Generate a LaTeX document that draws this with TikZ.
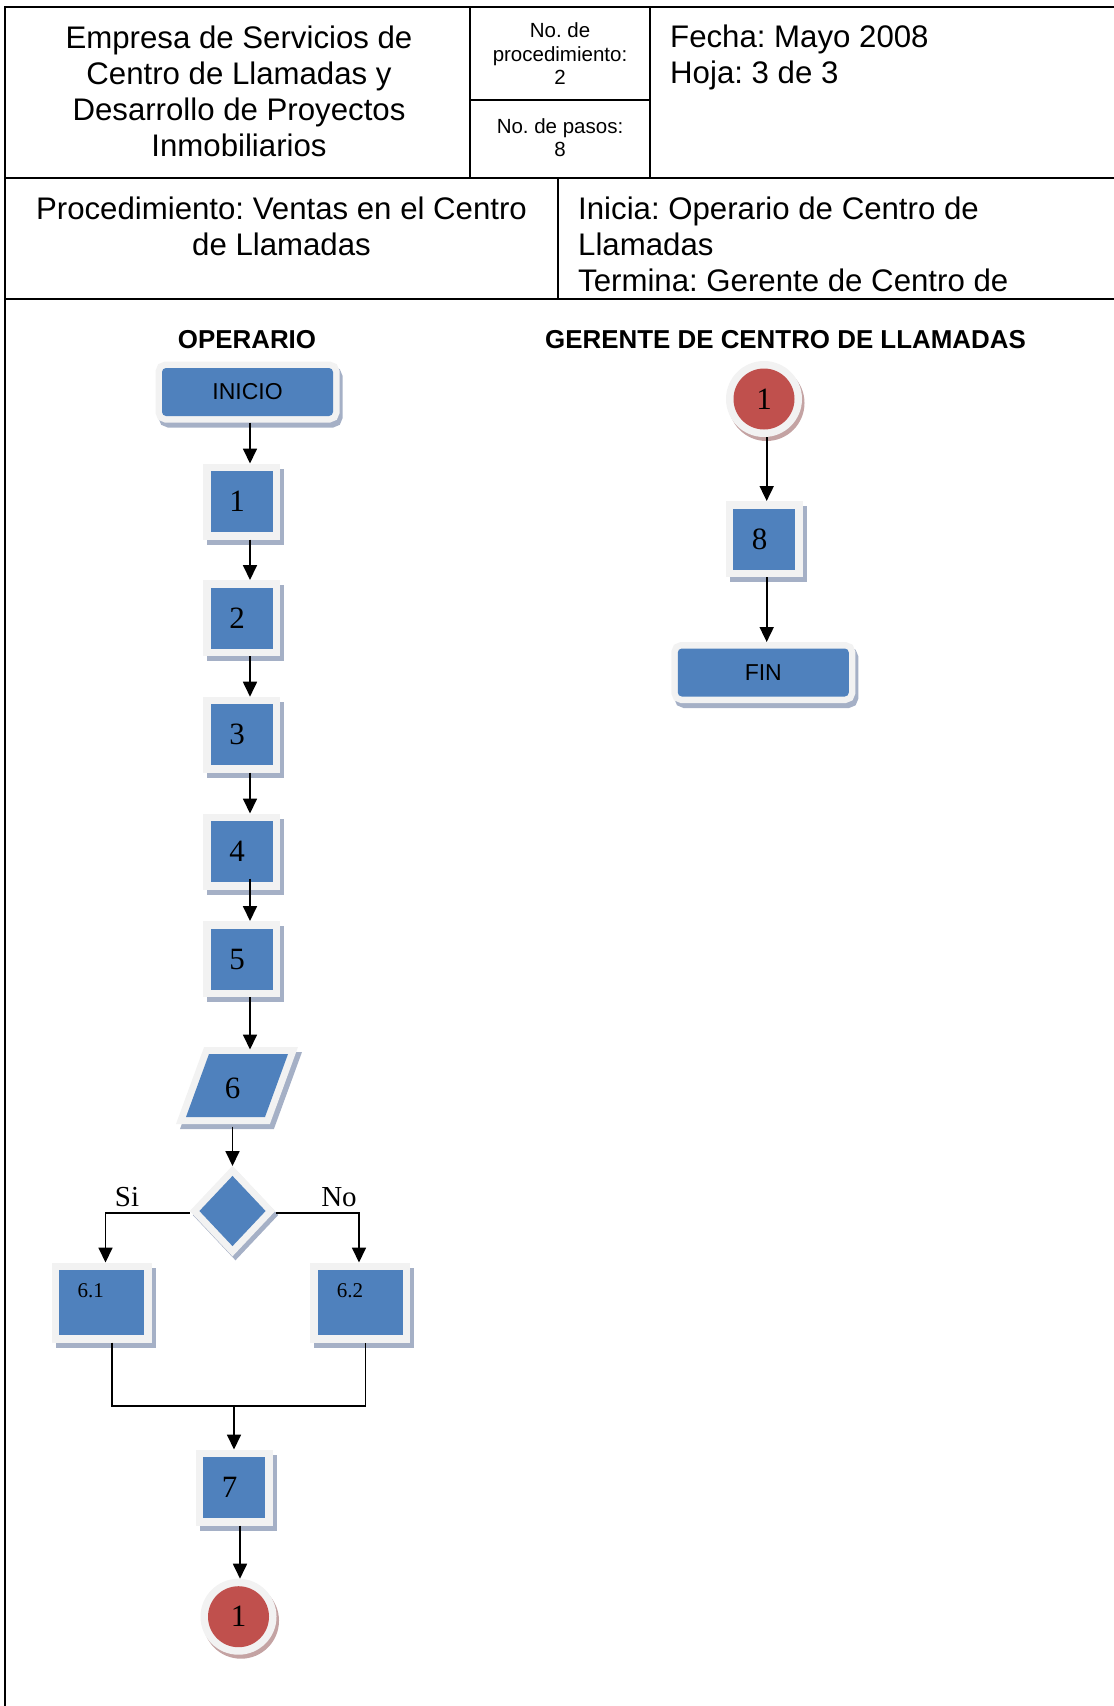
\documentclass[tikz,border=0pt]{standalone}
\usepackage{fontspec}
\setmainfont{Liberation Serif}
\newfontfamily\arial{Liberation Sans}
\usetikzlibrary{shapes.geometric,arrows.meta,calc}
\frenchspacing

\definecolor{stepblue}{HTML}{4F81BD}
\definecolor{connred}{HTML}{C0504D}
\definecolor{rimgray}{HTML}{F2F2F2}
\definecolor{shadeblue}{HTML}{A5B0C6}
\definecolor{shadered}{HTML}{C4A3A3}

\tikzset{
  x=1pt, y=-1pt,
  rule/.style={line width=2pt},
  flowline/.style={line width=1.8pt},
  arr/.style={flowline, -{Triangle[width=14pt,length=15pt]}},
  % light rim around a shape plus an offset shadow under it
  rimmed/.style n args={4}{
    preaction={draw=#1, fill=#1, line width=#2, transform canvas={xshift=#3, yshift=#4}},
    preaction={draw=rimgray, line width=#2}},
  hdbig/.style={font=\arial\fontsize{31.2pt}{36pt}\selectfont, inner sep=0pt},
  hdsmall/.style={font=\arial\fontsize{20.5pt}{23.5pt}\selectfont, inner sep=0pt, align=center, anchor=base},
  lane/.style={font=\arial\bfseries\fontsize{25.9pt}{25.9pt}\selectfont, inner sep=0pt, anchor=base},
  stepbox/.style={rectangle, fill=stepblue, minimum width=62pt, minimum height=61pt,
    inner sep=0pt, outer sep=7.5pt, line join=miter,
    rimmed={shadeblue}{15pt}{4pt}{-5pt}, font=\fontsize{31pt}{31pt}\selectfont,
    execute at begin node=\hspace*{-9pt}},
  widebox/.style={stepbox, minimum width=85pt, minimum height=65pt, execute at begin node={}},
  terminal/.style={rectangle, rounded corners=4pt, fill=stepblue, minimum width=171pt,
    minimum height=48pt, inner sep=0pt, outer sep=6.5pt,
    rimmed={shadeblue}{13pt}{3pt}{-5pt}, font=\arial\fontsize{23pt}{23pt}\selectfont},
  connector/.style={circle, fill=connred, minimum size=61pt, inner sep=0pt, outer sep=7.5pt,
    rimmed={shadered}{15pt}{2.5pt}{-4pt}, font=\fontsize{31pt}{31pt}\selectfont},
  decision/.style={diamond, fill=stepblue, minimum width=72pt, minimum height=76pt,
    inner sep=0pt, outer sep=7pt, line join=miter,
    rimmed={shadeblue}{14pt}{3pt}{-4pt}},
  branch/.style={font=\fontsize{29pt}{29pt}\selectfont, inner sep=0pt, anchor=base},
  sublabel/.style={font=\fontsize{21pt}{21pt}\selectfont, inner sep=0pt},
}

\begin{document}
\begin{tikzpicture}
\useasboundingbox (0,0) rectangle (1114,1706);

% ---------- header table ----------
\draw[rule] (1114,6.7) -- (5,6.7) -- (5,1706);
\draw[rule] (470,6.7) -- (470,178);
\draw[rule] (650,6.7) -- (650,178);
\draw[rule] (470,100) -- (650,100);
\draw[rule] (5,178) -- (1114,178);
\draw[rule] (558,178) -- (558,299);
\draw[rule] (5,299) -- (1114,299);

% multi-line texts are anchored on the baseline of their last line
\node[hdbig, align=center, anchor=base] (company) at (239,156)
  {Empresa de Servicios de\\Centro de Llamadas y\\Desarrollo de Proyectos\\Inmobiliarios};
\node[hdsmall] (procno) at (560,84.5) {No. de\\procedimiento:\\2};
\node[hdsmall] (stepsno) at (560,156.5) {No. de pasos:\\8};
\node[hdbig, align=left, anchor=base west] (date) at (670,83.5) {Fecha: Mayo 2008\\Hoja: 3 de 3};
\node[hdbig, align=center, anchor=base] (procname) at (281.5,255.5)
  {Procedimiento: Ventas en el Centro\\de Llamadas};
\node[hdbig, align=left, anchor=base west] (owners) at (578,291.5)
  {Inicia: Operario de Centro de\\Llamadas\\Termina: Gerente de Centro de};

% ---------- lanes ----------
\node[lane] (laneop) at (247,348.5) {OPERARIO};
\node[lane] (lanegc) at (785.5,348.5) {GERENTE DE CENTRO DE LLAMADAS};

% ---------- operator column ----------
\node[terminal] (inicio) at (247.5,392) {INICIO};
\node[stepbox] (b1) at (241.5,501.5) {1};
\node[stepbox] (b2) at (241.5,618) {2};
\node[stepbox] (b3) at (241.5,734.7) {3};
\node[stepbox] (b4) at (241.5,851.5) {4};
\node[stepbox] (b5) at (241.5,959) {5};

% data step 6 (parallelogram)
\path[fill=stepblue, line join=miter, rimmed={shadeblue}{14pt}{4pt}{-5pt}]
  (209,1054) -- (288,1054) -- (265,1117) -- (186,1117) -- cycle;
\node[inner sep=0pt, outer sep=0pt, minimum width=80pt, minimum height=77pt,
  font=\fontsize{31pt}{31pt}\selectfont] (p6) at (232.5,1088) {6};

\node[decision] (d) at (232.5,1211) {};
\node[branch] (si) at (127,1206) {Si};
\node[branch] (no) at (339,1206) {No};

\node[widebox, label={[sublabel, xshift=-11pt, yshift=11.5pt]center:6.1}] (b61) at (101.8,1302.5) {};
\node[widebox, label={[sublabel, xshift=-10pt, yshift=11.5pt]center:6.2}] (b62) at (360,1302.5) {};

\coordinate (join) at (234,1406);
\node[stepbox] (b7) at (234,1487.5) {7};
\node[connector] (c1) at (238.5,1616.7) {1};

% ---------- manager column ----------
\node[connector] (c2) at (764,399) {1};
\node[stepbox] (b8) at (764,539) {8};
\node[terminal] (fin) at (763.3,672.5) {FIN};

% ---------- connectors ----------
\draw[arr] ([xshift=2.5pt]inicio.south) -- ([xshift=8.5pt]b1.north);
\draw[arr] ([xshift=8.5pt]b1.south) -- ([xshift=8.5pt]b2.north);
\draw[arr] ([xshift=8.5pt]b2.south) -- ([xshift=8.5pt]b3.north);
\draw[arr] ([xshift=8.5pt]b3.south) -- ([xshift=8.5pt]b4.north);
\draw[arr] ([xshift=8.5pt,yshift=11pt]b4.south) -- ([xshift=8.5pt]b5.north);
\draw[arr] ([xshift=8.5pt]b5.south) -- ([xshift=17.5pt]p6.north);
\draw[arr] (p6.south) -- (d.north);
\draw[arr] ([yshift=-2pt]d.west) -| ([xshift=3.7pt]b61.north);
\draw[arr] ([yshift=-2pt]d.east) -| ([xshift=-1pt]b62.north);
\draw[flowline] ([xshift=10pt]b61.south) |- (join) -| ([xshift=5.5pt]b62.south);
\draw[arr] (join) -- (b7.north);
\draw[arr] ([xshift=6pt]b7.south) -- ([xshift=1.5pt]c1.north);

\draw[arr] ([xshift=2.7pt]c2.south) -- ([xshift=2.7pt]b8.north);
\draw[arr] ([xshift=2.7pt]b8.south) -- ([xshift=3.4pt]fin.north);
\end{tikzpicture}
\end{document}
